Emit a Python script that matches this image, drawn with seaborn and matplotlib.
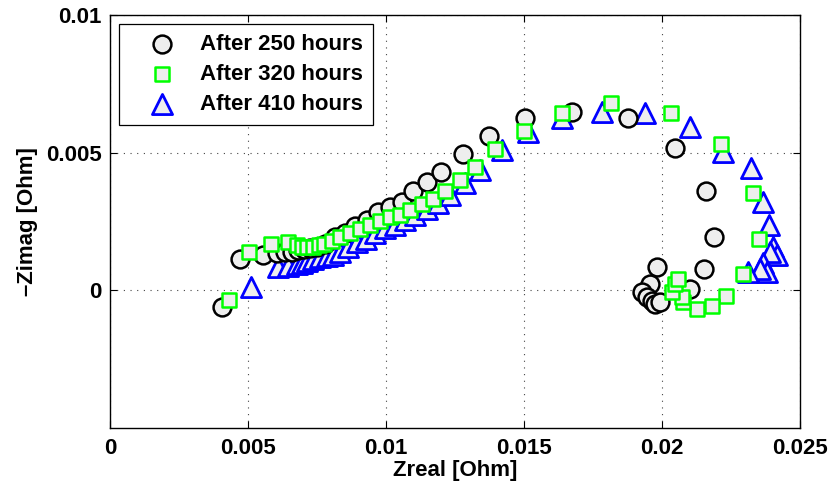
import matplotlib
matplotlib.use("Agg")
import matplotlib.pyplot as plt
import seaborn as sns
import pandas as pd

# ---- data ----
labels = ["After 250 hours", "After 320 hours", "After 410 hours"]

zreal_250 = [0.00406, 0.00471, 0.00554, 0.00605, 0.00634, 0.00659, 0.00681, 0.00703,
             0.00725, 0.00750, 0.00779, 0.00815, 0.00851, 0.00888, 0.00931, 0.00971,
             0.01014, 0.01058, 0.01098, 0.01149, 0.01199, 0.01279, 0.01373, 0.01504,
             0.01674, 0.01877, 0.02047, 0.02159, 0.02188, 0.02152, 0.02101, 0.01982,
             0.01957, 0.01928, 0.01946, 0.01964, 0.01975, 0.01993]
zimag_250 = [-0.00062, 0.00112, 0.00127, 0.00134, 0.00138, 0.00141, 0.00145, 0.00149,
             0.00152, 0.00159, 0.00170, 0.00192, 0.00210, 0.00232, 0.00257, 0.00283,
             0.00304, 0.00322, 0.00359, 0.00395, 0.00431, 0.00496, 0.00562, 0.00627,
             0.00649, 0.00627, 0.00518, 0.00359, 0.00192, 0.00076, 0.00004, 0.00083,
             0.00022, -0.00007, -0.00025, -0.00040, -0.00051, -0.00043]

zreal_320 = [0.00431, 0.00504, 0.00583, 0.00645, 0.00678, 0.00696, 0.00714, 0.00736,
             0.00757, 0.00775, 0.00804, 0.00833, 0.00870, 0.00906, 0.00942, 0.00978,
             0.01014, 0.01051, 0.01087, 0.01130, 0.01170, 0.01214, 0.01268, 0.01322,
             0.01395, 0.01500, 0.01638, 0.01815, 0.02033, 0.02214, 0.02330, 0.02351,
             0.02293, 0.02232, 0.02181, 0.02127, 0.02076, 0.02072, 0.02036, 0.02047,
             0.02058]
zimag_320 = [-0.00036, 0.00141, 0.00170, 0.00174, 0.00163, 0.00159, 0.00159, 0.00159,
             0.00163, 0.00170, 0.00178, 0.00192, 0.00210, 0.00221, 0.00239, 0.00250,
             0.00268, 0.00275, 0.00293, 0.00312, 0.00330, 0.00359, 0.00402, 0.00449,
             0.00514, 0.00580, 0.00645, 0.00681, 0.00645, 0.00533, 0.00355, 0.00185,
             0.00058, -0.00022, -0.00058, -0.00069, -0.00043, -0.00025, -0.00007, 0.00022,
             0.00040]

zreal_410 = [0.00511, 0.00609, 0.00645, 0.00678, 0.00696, 0.00714, 0.00736, 0.00761,
             0.00786, 0.00808, 0.00833, 0.00862, 0.00895, 0.00928, 0.00960, 0.00996,
             0.01033, 0.01069, 0.01105, 0.01149, 0.01188, 0.01232, 0.01286, 0.01341,
             0.01420, 0.01514, 0.01638, 0.01783, 0.01938, 0.02101, 0.02221, 0.02322,
             0.02366, 0.02388, 0.02402, 0.02417, 0.02391, 0.02366, 0.02380, 0.02355,
             0.02312]
zimag_410 = [0.00011, 0.00083, 0.00087, 0.00094, 0.00101, 0.00105, 0.00112, 0.00120,
             0.00123, 0.00130, 0.00141, 0.00159, 0.00174, 0.00188, 0.00207, 0.00225,
             0.00239, 0.00257, 0.00275, 0.00297, 0.00319, 0.00348, 0.00391, 0.00438,
             0.00511, 0.00576, 0.00627, 0.00649, 0.00645, 0.00594, 0.00504, 0.00446,
             0.00322, 0.00239, 0.00156, 0.00130, 0.00138, 0.00101, 0.00065, 0.00076,
             0.00065]

xticks = [0, 0.005, 0.01, 0.015, 0.02, 0.025]
xticklabels = ["0", "0.005", "0.01", "0.015", "0.02", "0.025"]
yticks = [0, 0.005, 0.01]
yticklabels = ["0", "0.005", "0.01"]

# ---- style ----
sns.set_theme(style="white")
plt.rcParams["font.family"] = ["Liberation Sans", "DejaVu Sans"]
plt.rcParams["font.weight"] = "bold"
plt.rcParams["text.color"] = "black"
plt.rcParams["axes.labelcolor"] = "black"
plt.rcParams["xtick.color"] = "black"
plt.rcParams["ytick.color"] = "black"
FS = 16

fig = plt.figure(figsize=(8.3, 4.91), dpi=100)
ax = fig.add_axes([110 / 830, 1 - 428 / 491, 690 / 830, 413 / 491])

face = "#eeeeee"
sns.scatterplot(x=zreal_410, y=zimag_410, marker="^", s=210, color=face,
                edgecolor="#0000ff", linewidth=2.0, ax=ax, zorder=3)
c3 = ax.collections[-1]
sns.scatterplot(x=zreal_250, y=zimag_250, marker="o", s=165, color=face,
                edgecolor="black", linewidth=1.8, ax=ax, zorder=4)
c1 = ax.collections[-1]
sns.scatterplot(x=zreal_320, y=zimag_320, marker="s", s=110, color=face,
                edgecolor="#00ff00", linewidth=1.8, ax=ax, zorder=5)
c2 = ax.collections[-1]

ax.set_xlim(0, 0.025)
ax.set_ylim(-0.005, 0.01)
ax.set_xticks(xticks)
ax.set_xticklabels(xticklabels, fontsize=FS, fontweight="bold", color="black")
ax.set_yticks(yticks)
ax.set_yticklabels(yticklabels, fontsize=FS, fontweight="bold", color="black")
ax.tick_params(axis="x", direction="in", length=5, width=0.8, top=True, bottom=True,
               pad=7, colors="black")
ax.tick_params(axis="y", direction="in", length=5, width=0.8, left=True, right=True,
               pad=6, colors="black")

ax.grid(True, linestyle=(0, (1, 5)), color="#444444", linewidth=0.8, zorder=1)
ax.set_axisbelow(True)
for sp in ax.spines.values():
    sp.set_visible(True)
    sp.set_color("black")
    sp.set_linewidth(1.0)

ax.set_xlabel("Zreal [Ohm]", fontsize=FS, fontweight="bold", labelpad=1, color="black")
ax.set_ylabel("–Zimag [Ohm]", fontsize=FS, fontweight="bold", labelpad=6, color="black")

leg = ax.legend([c1, c2, c3], labels, loc="upper left",
                bbox_to_anchor=(9 / 690, 1 - 9 / 413), borderaxespad=0,
                frameon=True, fancybox=False, edgecolor="black", framealpha=1,
                handlelength=3.0, handletextpad=0.2, labelspacing=0.4,
                borderpad=0.45, prop={"weight": "bold", "size": FS})
leg.get_frame().set_linewidth(0.9)
for t in leg.get_texts():
    t.set_color("black")
leg.set_zorder(10)

fig.savefig("out.png", dpi=100)
